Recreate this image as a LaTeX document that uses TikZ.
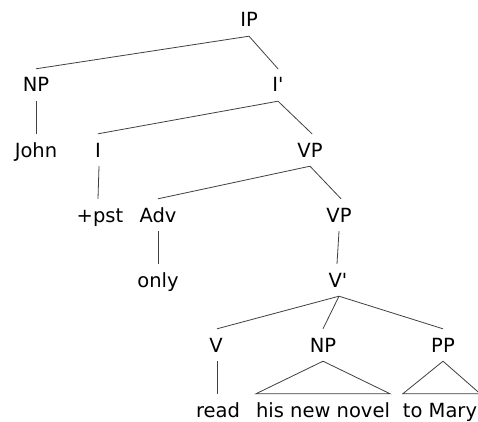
\documentclass[tikz,border=0pt]{standalone}
\usepackage{fontspec}
\setmainfont{DejaVu Sans}[Ligatures=TeXOff]
\begin{document}
\begin{tikzpicture}[x=1pt,y=1pt,
  tn/.style={inner sep=0pt, text height=23pt, text depth=9pt, anchor=base, font=\fontsize{19.5}{21}\selectfont},
  br/.style={line width=0.8pt, draw=black!75}]
\path[use as bounding box, fill=white] (0,0) rectangle (478,421);
% rows (baselines, y from top): 27,92,157,222,287,352,417
\node[tn] (ip)   at (249,394) {IP};
\node[tn] (np1)  at (36,329) {NP};
\node[tn] (ibar) at (278,329) {I'};
\node[tn] (john) at (36,264) {John};
\node[tn] (i)    at (98,264) {I};
\node[tn] (vp1)  at (310,264) {VP};
\node[tn] (pst)  at (100,199) {+pst};
\node[tn] (adv)  at (158,199) {Adv};
\node[tn] (vp2)  at (339,199) {VP};
\node[tn] (only) at (158,134) {only};
\node[tn] (vbar) at (338,134) {V'};
\node[tn] (v)    at (216,69) {V};
\node[tn] (np2)  at (323,69) {NP};
\node[tn] (pp)   at (443,69) {PP};
\node[tn] (read) at (218,4) {read};
\node[tn] (hnn)  at (323,4) {his new novel};
\node[tn] (tom)  at (440,4) {to Mary};
\draw[br] (ip.south) -- (np1.north);
\draw[br] (ip.south) -- (ibar.north);
\draw[br] (np1.south) -- (john.north);
\draw[br] (ibar.south) -- (i.north);
\draw[br] (ibar.south) -- ([xshift=2pt]vp1.north);
\draw[br] ([xshift=1pt]i.south) -- ([xshift=-2pt]pst.north);
\draw[br] (vp1.south) -- (adv.north);
\draw[br] (vp1.south) -- ([xshift=2pt]vp2.north);
\draw[br] (adv.south) -- (only.north);
\draw[br] (vp2.south) -- ([xshift=-1pt]vbar.north);
\draw[br] ([xshift=1pt]vbar.south) -- ([xshift=1pt]v.north);
\draw[br] ([xshift=1pt]vbar.south) -- (np2.north);
\draw[br] ([xshift=1pt]vbar.south) -- (pp.north);
\draw[br] ([xshift=1pt]v.south) -- ([xshift=-1pt]read.north);
\draw[br] (np2.south) -- (hnn.north west) -- (hnn.north east) -- cycle;
\draw[br] (pp.south) -- (tom.north west) -- ([xshift=3pt]tom.north east) -- cycle;
\end{tikzpicture}
\end{document}
